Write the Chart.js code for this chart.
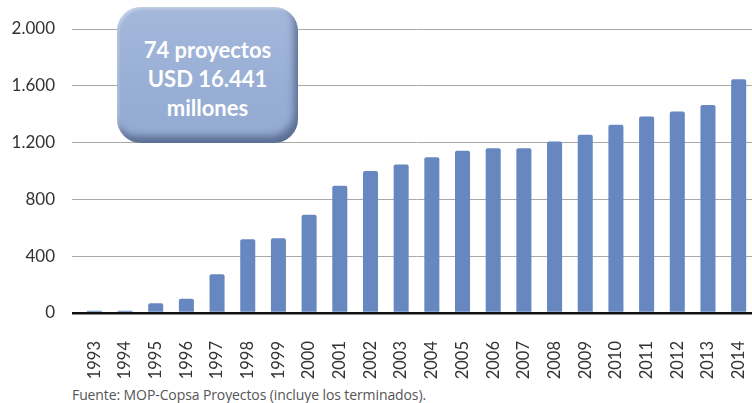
<!DOCTYPE html>
<html><head><meta charset="utf-8">
<script src="https://cdn.jsdelivr.net/npm/chart.js@4"></script>
<style>
html,body{margin:0;padding:0;background:#fff;overflow:hidden;width:752px;height:403px;}
#wrap{position:relative;width:754px;height:382px;}
#box{position:absolute;left:117px;top:7px;width:181px;height:136px;border-radius:24px;
background:linear-gradient(180deg,#a4b8db 0%,#99afd5 55%,#93aad2 100%);
box-shadow:inset -4px -7px 7px rgba(55,70,105,0.6), inset 2px 2px 3px rgba(255,255,255,0.35);
color:#fff;font-family:Lato,"Open Sans",sans-serif;font-weight:bold;font-size:22px;line-height:29px;
text-align:center;box-sizing:border-box;padding-top:28px;}
#src{position:absolute;left:72px;top:385px;font-family:"Open Sans",sans-serif;font-size:14px;letter-spacing:-0.1px;color:#555;}
</style></head>
<body>
<div id="wrap"><canvas id="c" width="754" height="382"></canvas>
<div id="box">74 proyectos<br>USD 16.441<br>millones</div></div>
<div id="src">Fuente: MOP-Copsa Proyectos (incluye los terminados).</div>
<script>
const years = ['1993','1994','1995','1996','1997','1998','1999','2000','2001','2002','2003','2004','2005','2006','2007','2008','2009','2010','2011','2012','2013','2014'];
const values = [15,15,68,101,273,520,527,692,896,1000,1045,1097,1143,1160,1160,1207,1256,1325,1383,1419,1464,1647];
const yTicks = [0,400,800,1200,1600,2000];

const fmt = v => v >= 1000 ? Math.floor(v/1000) + '.' + String(v%1000).padStart(3,'0') : String(v);

new Chart(document.getElementById('c'), {
  type: 'bar',
  data: { labels: years, datasets: [{ data: values, backgroundColor: '#6787c0', borderRadius: {topLeft:2,topRight:2}, borderSkipped: 'bottom', barPercentage: 0.49, categoryPercentage: 1 }] },
  options: {
    responsive: false, animation: false,
    layout: { padding: { top: 29, left: 0, right: 0, bottom: 0 } },
    plugins: { legend: { display: false }, tooltip: { enabled: false } },
    scales: {
      x: {
        grid: { display: false }, border: { display: false },
        ticks: { maxRotation: 90, minRotation: 90, padding: 20, color: '#333', font: { family: 'Lato', size: 16.5 } },
        afterFit: s => { s.height = 69; s.paddingLeft = 0; s.paddingRight = 0; }
      },
      y: {
        min: 0, max: 2000,
        afterBuildTicks: s => { s.ticks = yTicks.map(v => ({ value: v })); },
        afterFit: s => { s.width = 79; },
        border: { display: false },
        grid: {
          tickLength: 7,
          color: c => c.tick && c.tick.value === 0 ? '#111' : '#a8a8a8',
          lineWidth: c => c.tick && c.tick.value === 0 ? 2.5 : 1
        },
        ticks: { padding: 17, color: '#333', font: { family: 'Lato', size: 17 }, callback: v => fmt(v) }
      }
    }
  }
});
</script>
</body></html>
